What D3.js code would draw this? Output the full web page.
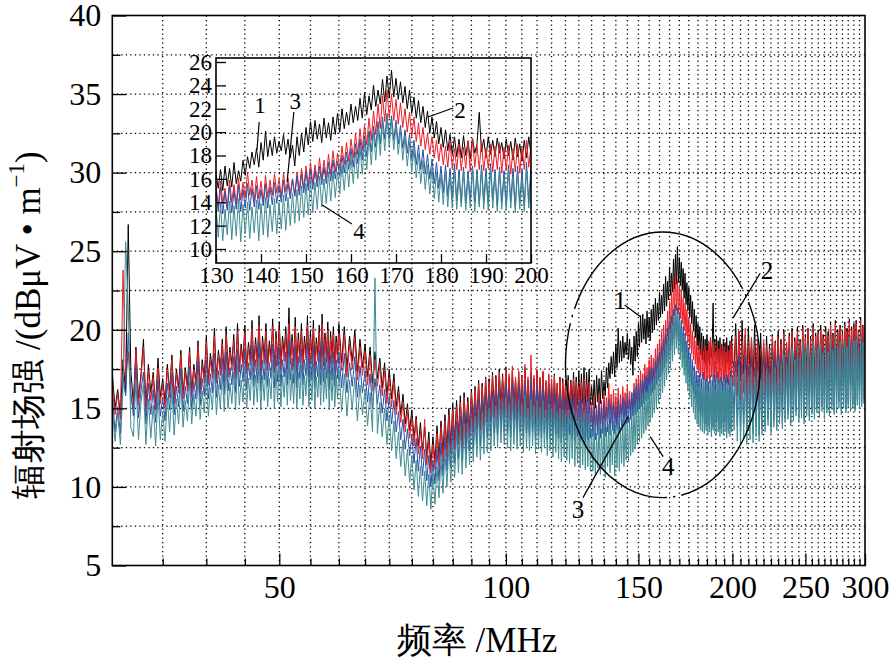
<!DOCTYPE html>
<html><head><meta charset="utf-8">
<script src="https://cdn.jsdelivr.net/npm/d3@7"></script>
<style>
body{margin:0;background:#fff}
svg{display:block}
text{font-family:"Liberation Serif","Tinos","Times New Roman",Times,"DejaVu Serif",serif;fill:#000}
</style>
</head><body>
<svg id="c" width="892" height="659"></svg>
<script>
// ---------------- DATA ----------------
const freqMHz = [
30,30.25,30.5,30.75,31,31.25,31.5,31.75,32,32.25,
32.5,32.75,33,33.25,33.5,33.75,34,34.25,34.5,34.75,
35,35.25,35.5,35.75,36,36.25,36.5,36.75,37,37.25,
37.5,37.75,38,38.25,38.5,38.75,39,39.25,39.5,39.75,
40,40.25,40.5,40.75,41,41.25,41.5,41.75,42,42.25,
42.5,42.75,43,43.25,43.5,43.75,44,44.25,44.5,44.75,
45,45.25,45.5,45.75,46,46.25,46.5,46.75,47,47.25,
47.5,47.75,48,48.25,48.5,48.75,49,49.25,49.5,49.75,
50,50.25,50.5,50.75,51,51.25,51.5,51.75,52,52.25,
52.5,52.75,53,53.25,53.5,53.75,54,54.25,54.5,54.75,
55,55.25,55.5,55.75,56,56.25,56.5,56.75,57,57.25,
57.5,57.75,58,58.25,58.5,58.75,59,59.25,59.5,59.75,
60,
60.5,61,61.5,62,62.5,63,63.5,64,64.5,65,
65.5,66,66.5,67,67.5,68,68.5,69,69.5,70,
70.5,71,71.5,72,72.5,73,73.5,74,74.5,75,
75.5,76,76.5,77,77.5,78,78.5,79,79.5,80,
80.5,81,81.5,82,82.5,83,83.5,84,84.5,85,
85.5,86,86.5,87,87.5,88,88.5,89,89.5,90,
90.5,91,91.5,92,92.5,93,93.5,94,94.5,95,
95.5,96,96.5,97,97.5,98,98.5,99,99.5,100,
100.5,101,101.5,102,102.5,103,103.5,104,104.5,105,
105.5,106,106.5,107,107.5,108,108.5,109,109.5,110,
110.5,111,111.5,112,112.5,113,113.5,114,114.5,115,
115.5,116,116.5,117,117.5,118,118.5,119,119.5,120,
120.5,121,121.5,122,122.5,123,123.5,124,124.5,125,
125.5,126,126.5,127,127.5,128,128.5,129,129.5,
130,130.5,131,131.5,132,132.5,133,133.5,134,134.5,
135,135.5,136,136.5,137,137.5,138,138.5,139,139.5,
140,140.5,141,141.5,142,142.5,143,143.5,144,144.5,
145,145.5,146,146.5,147,147.5,148,148.5,149,149.5,
150,150.5,151,151.5,152,152.5,153,153.5,154,154.5,
155,155.5,156,156.5,157,157.5,158,158.5,159,159.5,
160,160.5,161,161.5,162,162.5,163,163.5,164,164.5,
165,165.5,166,166.5,167,167.5,168,168.5,169,169.5,
170,170.5,171,171.5,172,172.5,173,173.5,174,174.5,
175,175.5,176,176.5,177,177.5,178,178.5,179,179.5,
180,180.5,181,181.5,182,182.5,183,183.5,184,184.5,
185,185.5,186,186.5,187,187.5,188,188.5,189,189.5,
190,190.5,191,191.5,192,192.5,193,193.5,194,194.5,
195,195.5,196,196.5,197,197.5,198,198.5,199,199.5,
200,
201,202,203,204,205,206,207,208,209,210,
211,212,213,214,215,216,217,218,219,220,
221,222,223,224,225,226,227,228,229,230,
231,232,233,234,235,236,237,238,239,240,
241,242,243,244,245,246,247,248,249,250,
251,252,253,254,255,256,257,258,259,260,
261,262,263,264,265,266,267,268,269,270,
271,272,273,274,275,276,277,278,279,280,
281,282,283,284,285,286,287,288,289,290,
291,292,293,294,295,296,297,298,299,300
];

// curve 1 (black)
const curve1 = [
17.3,15.0,16.2,14.6,18.1,16.0,26.7,17.4,15.3,18.9,
15.6,17.2,19.4,15.1,17.8,16.0,17.3,15.2,18.2,15.7,
16.9,15.4,17.8,16.1,18.4,15.6,17.5,16.3,18.7,15.9,
17.6,16.4,18.9,16.0,17.8,16.7,19.3,16.2,18.1,16.9,
19.6,16.8,18.5,17.3,20.1,16.9,18.7,17.5,19.4,17.0,
20.2,17.4,18.9,17.8,19.7,17.2,20.4,17.6,19.1,18.0,
20.3,17.5,19.2,18.1,20.6,17.7,19.5,17.9,20.9,17.4,
19.6,18.2,20.4,17.8,19.3,18.3,20.7,17.6,19.9,18.1,
20.5,17.8,19.6,18.4,20.2,17.9,21.4,18.2,19.7,18.0,
20.8,17.7,19.8,18.3,20.4,17.9,19.6,18.5,20.9,17.8,
19.9,18.2,20.6,17.7,19.5,18.4,20.3,17.9,21.0,18.1,
19.8,18.3,20.5,17.6,19.9,18.2,20.2,17.8,19.6,18.4,
20.4,
17.9,20.2,17.5,19.6,18.0,20.0,17.3,19.4,17.6,19.1,
17.0,18.9,16.6,18.6,16.9,18.2,16.3,17.9,15.8,17.5,
15.6,17.2,15.1,16.4,14.6,15.9,14.0,15.3,13.6,14.9,
13.1,14.5,12.6,14.1,12.3,13.8,11.9,13.5,11.4,13.2,
11.6,13.9,11.8,14.2,12.1,14.6,12.4,15.0,12.6,15.3,
12.9,15.5,13.2,15.8,13.0,16.0,13.5,15.7,13.7,16.2,
13.9,16.4,14.1,16.8,14.0,16.6,14.3,17.0,14.5,16.9,
14.6,17.3,14.8,17.1,14.7,17.5,15.0,17.2,14.9,17.6,
14.8,17.0,14.6,17.4,15.0,16.9,14.7,17.3,14.9,17.1,
14.5,17.6,14.8,16.8,14.6,17.2,14.9,16.9,14.4,17.4,
14.7,16.9,14.5,17.3,14.8,16.7,14.4,17.1,14.6,16.8,
14.3,17.2,14.7,16.6,14.5,17.0,14.2,16.9,14.6,16.7,
14.8,17.1,14.9,16.8,15.1,17.3,14.9,17.0,15.2,17.4,
15.0,17.2,15.3,17.6,15.1,17.3,15.4,17.5,15.2,
16.4,15.2,16.8,15.0,17.1,15.4,16.9,15.3,17.4,15.6,
16.7,15.8,17.6,16.3,17.9,16.9,18.3,17.2,18.6,17.0,
19.1,17.6,20.1,17.9,19.3,18.0,19.6,18.2,19.2,18.4,
19.8,18.1,19.4,17.8,18.9,17.1,19.6,18.0,19.9,18.3,
20.4,18.9,20.9,19.2,21.0,19.4,20.7,19.1,21.2,19.5,
20.8,19.3,21.3,19.8,21.6,20.0,22.0,20.3,21.7,20.6,
22.4,20.8,22.2,21.0,22.9,21.2,23.4,21.5,23.1,21.9,
24.0,22.2,23.6,22.4,24.5,22.6,24.8,22.9,25.3,23.0,
24.6,22.8,24.3,22.5,23.9,22.0,23.6,21.6,23.0,21.2,
22.7,20.8,22.2,20.4,21.8,19.9,21.3,19.5,20.9,19.0,
20.4,18.7,20.2,18.4,19.8,18.1,19.6,17.9,19.4,17.8,
19.7,18.0,19.2,17.7,19.5,18.2,19.0,21.7,18.3,19.4,
17.8,19.6,18.1,19.3,17.9,19.5,18.2,19.1,17.7,19.4,
18.0,19.2,17.6,19.5,17.9,19.0,17.5,19.3,17.8,19.6,
18.1,
17.6,20.4,17.0,19.9,16.8,20.6,17.2,19.7,16.6,20.2,
17.1,19.5,16.5,20.3,16.9,19.4,16.4,19.8,16.8,19.2,
16.6,19.6,17.0,19.1,16.4,19.7,16.8,19.3,16.5,19.9,
16.9,19.4,16.5,20.0,16.8,19.2,17.0,19.8,16.6,20.1,
16.8,19.5,17.2,20.2,16.7,19.4,17.1,20.3,16.8,19.7,
17.3,20.1,16.8,19.6,17.1,20.4,16.9,19.8,17.2,20.0,
17.0,20.3,17.3,19.7,16.9,20.2,17.4,19.9,17.1,20.5,
17.5,19.8,17.0,20.6,17.3,20.0,17.7,20.3,17.2,19.9,
17.4,20.5,17.1,20.1,17.6,20.7,17.3,20.2,17.5,20.4,
17.2,20.6,17.7,20.0,17.4,20.8,17.6,20.3,17.8,20.1
];

// curve 2 (red)
const curve2 = [
16.8,14.6,15.9,14.3,23.8,16.9,18.6,15.7,15.0,18.7,
15.2,16.9,18.9,14.8,17.4,15.5,17.0,14.9,17.6,15.3,
16.5,15.0,17.5,15.7,18.1,15.3,17.2,16.0,18.4,15.6,
17.3,16.1,18.6,15.7,17.5,16.4,19.0,15.9,17.8,16.6,
19.2,16.5,18.1,16.9,19.6,16.6,18.4,17.1,19.1,16.7,
19.7,17.0,18.6,17.4,19.3,16.9,19.9,17.3,18.8,17.6,
19.8,17.2,18.9,17.7,20.1,17.3,19.1,17.6,20.3,17.1,
19.2,17.8,19.9,17.4,18.9,17.9,20.2,17.3,19.5,17.7,
20.0,17.4,19.2,18.0,19.7,17.5,20.4,17.8,19.3,17.6,
20.2,17.3,19.4,17.9,19.9,17.5,19.2,18.1,20.3,17.4,
19.5,17.8,20.1,17.3,19.1,18.0,19.8,17.5,20.4,17.7,
19.4,17.9,20.0,17.2,19.5,17.8,19.7,17.4,19.2,17.9,
19.8,
17.4,19.7,17.0,19.1,17.5,19.5,16.8,18.9,17.1,18.6,
16.5,18.4,16.1,18.1,16.4,17.7,15.8,17.4,15.3,17.0,
15.1,16.7,14.6,15.9,14.1,15.4,13.5,14.8,13.1,14.4,
12.6,14.3,12.1,13.6,11.8,14.3,11.4,13.0,10.9,12.7,
11.1,13.4,11.3,13.8,11.6,14.2,11.9,14.6,12.1,14.9,
12.4,15.1,12.7,15.4,12.5,15.7,13.0,15.4,13.2,16.0,
13.5,16.2,13.7,16.6,13.6,16.4,13.9,16.9,14.1,16.7,
14.2,17.1,14.4,16.9,14.3,17.3,14.6,17.0,14.5,17.5,
14.4,17.2,14.2,17.7,14.6,17.0,14.3,17.4,14.5,17.1,
14.1,17.8,14.4,17.0,14.2,18.4,14.5,17.1,14.0,17.5,
14.3,17.0,14.1,17.4,14.4,16.8,14.0,17.2,14.2,16.9,
13.9,17.1,14.3,16.6,14.1,16.9,13.8,16.7,14.2,16.5,
14.0,16.8,14.3,16.6,14.1,16.9,13.9,16.7,14.2,16.4,
13.9,16.6,14.1,16.9,13.8,16.5,14.0,16.7,14.1,
15.4,13.6,15.8,13.9,15.2,13.5,15.9,14.0,15.5,13.8,
16.1,14.2,15.7,14.4,16.6,14.6,15.9,14.1,16.2,14.3,
15.8,14.0,16.3,14.4,15.9,14.6,16.4,14.8,16.0,14.5,
16.5,14.9,16.1,14.7,16.0,14.6,16.6,15.0,16.9,15.2,
17.1,15.4,17.4,15.6,17.2,15.8,17.8,16.0,17.6,16.1,
18.1,16.4,18.4,16.6,18.2,16.9,18.8,17.2,19.1,17.5,
19.4,17.8,19.9,18.1,20.3,18.4,20.6,18.9,21.2,19.3,
21.8,19.8,22.4,20.3,23.1,20.9,23.6,21.2,23.2,21.0,
22.8,20.7,22.5,20.4,22.0,20.0,21.7,19.6,21.3,19.2,
20.8,18.8,20.4,18.5,19.9,18.1,19.6,17.8,19.3,17.5,
19.0,17.2,18.8,17.0,19.2,16.9,18.6,16.8,19.0,16.7,
18.7,16.9,19.3,16.6,19.5,17.0,18.9,16.8,19.2,16.7,
18.6,16.9,19.0,16.6,18.8,16.8,19.1,16.5,18.7,16.7,
18.9,16.4,18.6,16.6,19.0,16.5,18.7,16.8,19.3,17.0,
18.9,
16.4,19.6,15.8,19.9,15.5,19.3,16.0,20.1,15.4,19.0,
15.9,19.5,15.3,19.0,15.7,19.4,15.2,18.8,15.6,19.3,
15.5,19.0,15.9,18.8,15.3,19.6,15.8,19.2,15.4,19.5,
15.9,19.1,15.4,19.8,15.7,19.2,16.0,19.6,15.6,19.9,
15.8,19.3,16.2,19.9,15.7,19.2,16.1,20.1,15.8,19.5,
16.3,19.9,15.8,19.4,16.1,20.2,15.9,19.6,16.2,19.8,
16.0,20.0,16.3,19.5,15.9,19.9,16.4,19.6,16.1,20.3,
16.5,19.6,16.0,20.4,16.3,19.8,16.7,20.1,16.2,19.7,
16.4,20.3,16.1,19.9,16.6,20.5,16.3,20.0,16.5,20.2,
16.2,20.4,16.7,19.9,16.4,20.6,16.6,20.2,16.8,21.3
];

// curve 3 (blue)
const curve3 = [
15.9,13.5,15.1,13.4,17.0,15.8,19.8,16.0,14.5,17.6,
14.4,16.1,17.3,14.0,16.6,14.6,16.2,14.1,16.8,14.5,
15.7,14.2,16.6,14.9,17.2,14.6,16.4,15.1,17.5,14.8,
16.4,15.3,17.7,14.9,16.7,15.6,18.0,15.2,16.9,15.8,
18.1,15.6,17.2,16.0,18.5,15.7,17.4,16.2,18.2,15.9,
18.6,16.1,17.6,16.5,18.3,16.0,18.8,16.4,17.8,16.7,
18.7,16.2,17.9,16.8,19.0,16.4,18.1,16.6,19.2,16.1,
18.1,16.8,18.8,16.4,17.9,16.9,19.1,16.3,18.4,16.7,
18.9,16.4,18.1,17.0,18.6,16.5,19.3,16.8,18.2,16.6,
19.0,16.3,18.3,16.9,18.8,16.5,18.1,17.1,19.2,16.4,
18.4,16.8,19.0,16.3,18.0,17.0,18.7,16.5,19.3,16.7,
18.3,16.9,18.9,16.2,18.4,16.8,18.6,16.4,18.1,16.9,
18.6,
16.3,18.5,16.0,17.9,16.4,18.3,15.7,17.7,16.0,17.4,
15.4,17.2,15.0,16.9,15.3,16.5,14.7,16.2,14.2,15.8,
14.0,15.5,13.5,14.8,13.0,14.3,12.4,13.7,12.0,13.3,
11.5,13.1,11.0,12.6,10.7,12.4,10.4,12.0,10.0,11.7,
10.2,12.4,10.4,12.8,10.7,13.2,11.0,13.6,11.2,13.9,
11.5,14.2,11.8,14.5,11.6,14.8,12.1,14.6,12.3,15.1,
12.5,15.3,12.7,15.6,12.6,15.5,12.9,15.9,13.1,15.8,
13.2,16.1,13.4,15.9,13.3,16.3,13.6,16.0,13.5,16.5,
13.4,16.2,13.2,16.6,13.6,16.0,13.3,16.4,13.5,16.1,
13.1,16.7,13.4,15.9,13.2,16.9,13.5,16.1,13.0,16.5,
13.3,16.0,13.1,16.4,13.4,15.8,13.0,16.2,13.2,15.9,
12.9,16.1,13.3,15.6,13.1,15.9,12.8,15.7,13.2,15.5,
13.0,15.8,13.3,15.6,13.1,15.9,12.9,15.7,13.2,15.4,
12.9,15.6,13.1,15.9,12.8,15.5,13.0,15.7,13.1,
15.0,13.2,15.3,13.0,14.9,13.3,15.4,13.1,15.0,13.4,
15.5,13.2,15.1,13.5,15.6,13.3,15.2,13.6,15.4,13.4,
15.1,13.7,15.6,13.5,15.3,13.8,15.7,13.9,15.4,14.0,
15.9,14.1,15.6,14.3,16.0,14.5,16.2,14.6,16.4,14.8,
16.6,15.0,16.8,15.1,16.7,15.3,17.1,15.5,17.0,15.6,
17.4,15.8,17.6,16.0,17.5,16.2,18.0,16.5,18.3,16.8,
18.6,17.0,19.0,17.3,19.4,17.6,19.7,17.9,20.1,18.3,
20.5,18.7,20.9,19.0,21.3,19.4,21.6,19.6,21.4,19.3,
21.0,19.0,20.6,18.6,20.2,18.2,19.8,17.7,19.3,17.2,
18.9,16.8,18.5,16.4,18.1,16.0,17.7,15.6,17.4,15.2,
17.1,14.8,17.2,14.5,16.9,14.3,17.3,14.1,16.8,14.0,
17.0,13.9,16.7,14.2,17.1,14.0,16.8,13.8,17.2,14.1,
16.9,13.9,17.3,14.2,16.8,13.7,17.0,14.0,16.7,13.8,
17.2,14.1,16.9,13.6,17.1,13.9,16.8,13.7,17.4,14.0,
17.0,
14.6,18.0,13.9,18.4,13.6,17.8,14.0,18.3,13.5,17.7,
13.9,18.2,13.4,17.6,13.8,18.0,13.3,17.5,13.7,18.3,
13.9,17.9,14.3,17.7,13.8,18.5,14.2,18.0,13.9,18.4,
14.4,18.1,14.0,18.7,14.3,18.2,14.6,18.6,14.1,18.9,
14.5,18.3,14.8,18.9,14.4,18.2,14.7,19.1,14.3,18.6,
14.9,19.0,14.5,18.4,14.8,19.2,14.6,18.7,15.0,18.9,
14.7,19.1,15.1,18.5,14.6,19.0,15.0,18.7,14.8,19.4,
15.2,18.8,14.8,19.5,15.1,18.9,15.4,19.2,14.9,18.8,
15.3,19.3,15.0,18.9,15.4,19.6,15.1,19.1,15.3,19.4,
15.0,19.5,15.5,19.0,15.2,19.8,15.4,19.3,15.6,20.0
];

// curve 4 (teal)
const curve4 = [
15.2,12.9,14.7,12.7,16.3,25.6,21.5,13.8,13.2,16.8,
13.0,15.4,16.5,12.7,15.6,13.1,15.2,12.6,15.9,13.0,
14.8,12.9,15.7,13.5,16.3,13.3,15.6,14.0,16.6,13.8,
15.5,14.2,16.7,14.0,15.9,14.5,17.0,14.3,16.1,14.7,
17.1,14.5,16.3,14.9,17.5,14.6,16.5,15.0,17.2,14.8,
17.6,15.0,16.6,15.3,17.3,14.9,17.8,15.2,16.8,15.4,
17.7,15.0,16.9,15.5,18.0,15.2,17.1,15.4,18.2,14.9,
17.1,15.5,17.8,15.1,16.9,15.6,18.1,15.0,17.4,15.4,
17.9,15.1,17.1,15.7,17.6,15.2,18.3,15.5,17.2,15.3,
18.0,15.0,17.3,15.6,17.8,15.2,17.1,15.8,18.2,15.1,
17.4,15.5,18.0,15.0,17.0,15.7,17.7,15.2,18.3,15.4,
17.3,15.6,17.9,14.9,17.4,15.5,17.6,15.1,17.1,15.6,
17.5,
14.8,17.2,14.5,16.8,14.9,17.0,14.2,16.5,14.6,16.2,
13.9,16.0,13.5,23.3,13.4,15.4,13.2,15.0,12.7,14.6,
12.3,14.2,11.8,13.5,11.3,13.0,10.7,12.4,10.3,12.0,
9.8,11.7,9.4,11.3,9.1,11.0,8.8,10.8,8.6,10.9,
8.9,11.3,9.3,11.8,9.6,12.3,10.0,12.7,10.3,13.0,
10.6,13.4,10.9,13.7,10.8,14.0,11.2,13.8,11.4,14.3,
11.6,14.5,11.9,14.8,11.7,14.7,12.1,15.1,12.2,15.0,
12.3,15.3,12.6,15.1,12.5,15.6,12.8,15.2,12.7,15.7,
12.5,15.3,12.3,15.7,12.7,15.1,12.4,15.5,12.6,15.2,
12.2,15.8,12.5,15.0,12.3,15.6,12.6,15.2,12.1,15.5,
12.4,15.1,12.2,15.5,12.5,14.9,12.0,15.3,12.3,15.0,
11.9,15.2,12.2,14.7,11.8,15.0,11.6,14.9,11.9,14.6,
11.7,14.9,11.5,14.6,11.8,14.9,11.3,14.7,11.5,14.4,
11.2,14.6,11.4,14.8,11.1,14.5,11.3,14.7,11.0,
13.6,11.0,13.9,10.7,13.4,11.2,14.1,10.8,13.7,11.1,
14.3,10.6,13.8,11.3,14.0,10.9,13.6,11.4,14.2,10.7,
13.9,11.2,14.4,11.0,13.8,11.5,14.3,11.3,14.0,11.7,
14.6,11.6,14.4,12.0,14.8,12.2,15.1,12.4,15.4,12.7,
15.6,12.9,15.9,13.1,15.7,13.4,16.2,13.6,16.0,13.9,
16.5,14.1,16.7,14.4,16.6,14.7,17.2,15.0,17.6,15.3,
17.9,15.6,18.3,16.0,18.7,16.4,19.1,16.8,19.6,17.2,
20.0,17.6,20.4,18.0,20.9,18.4,21.3,18.8,21.0,18.5,
20.6,18.1,20.1,17.6,19.6,17.1,19.1,16.6,18.6,16.1,
18.1,15.6,17.6,15.1,17.2,14.7,16.9,14.3,16.6,14.0,
16.4,13.8,16.6,13.6,16.3,13.5,16.8,13.4,16.2,13.6,
16.7,13.3,16.1,13.5,16.9,13.2,16.4,13.6,16.8,13.4,
16.2,13.3,16.9,13.5,16.3,13.2,16.7,13.4,16.1,13.3,
16.8,13.5,16.2,13.1,16.6,13.4,16.0,13.2,16.9,13.5,
16.4,
13.6,17.3,12.9,17.7,12.8,17.1,13.1,17.5,12.7,17.0,
13.0,17.6,12.8,17.0,13.2,17.4,12.9,16.9,13.3,17.7,
13.5,17.5,13.9,17.2,13.4,18.1,13.8,17.6,13.6,18.0,
14.0,17.8,13.7,18.4,14.1,17.9,14.3,18.5,13.9,18.8,
14.2,18.1,14.5,18.9,14.1,18.3,14.4,19.2,14.0,18.6,
14.5,19.0,14.2,18.4,14.6,19.3,14.3,18.7,14.7,18.9,
14.4,19.1,14.8,18.5,14.3,19.0,14.7,18.6,14.5,19.4,
14.9,18.7,14.6,19.5,14.8,18.9,15.0,19.2,14.6,18.8,
15.0,19.3,14.7,18.9,15.1,19.5,14.8,19.0,15.0,19.3,
14.8,19.4,15.2,18.9,15.0,19.6,15.1,19.2,15.3,19.1
];

const seriesColors = ["#000000", "#ec1c24", "#2a4ea6", "#3f8c92"];
const mainYTickLabels = [5, 10, 15, 20, 25, 30, 35, 40];
const mainXTickLabels = [50, 100, 150, 200, 250, 300];
const insetXTickLabels = [130, 140, 150, 160, 170, 180, 190, 200];
const insetYTickLabels = [10, 12, 14, 16, 18, 20, 22, 24, 26];

// annotations in data coordinates (freq MHz, level dB)
const mainNotes = [
  {label:"1", tx:141.8, ty:21.84, x1:143.8, y1:21.58, x2:151.1, y2:20.82},
  {label:"2", tx:222.3, ty:23.80, x1:217.7, y1:23.60, x2:200.4, y2:20.76},
  {label:"3", tx:124.7, ty:8.56,  x1:126.6, y1:9.32,  x2:145.4, y2:14.47},
  {label:"4", tx:164.3, ty:11.29, x1:161.8, y1:11.93, x2:155.5, y2:13.20}
];
const insetNotes = [
  {label:"1", tx:139.8, ty:22.30, x1:139.6, y1:20.86, x2:139.1, y2:18.47},
  {label:"3", tx:147.6, ty:22.66, x1:147.3, y1:21.72, x2:145.8, y2:15.73},
  {label:"2", tx:184.2, ty:21.89, x1:182.7, y1:22.06, x2:177.1, y2:21.29},
  {label:"4", tx:161.8, ty:11.54, x1:160.2, y1:12.14, x2:153.6, y2:13.76}
];
const ellipseBox = {f0:120, f1:217.7, v0:9.32, v1:26.22};

// ---------------- DRAW ----------------
const SERIF = '"Liberation Serif","Tinos","Times New Roman",Times,"DejaVu Serif",serif';
const svg = d3.select("#c");
const M = {left:112.3, right:865, top:15.5, bottom:565.5};
const x = d3.scaleLog().domain([30, 300]).range([M.left, M.right]);
const y = d3.scaleLinear().domain([5, 40]).range([M.bottom, M.top]);

const defs = svg.append("defs");
defs.append("clipPath").attr("id","clipMain").append("rect")
  .attr("x", M.left).attr("y", M.top).attr("width", M.right - M.left).attr("height", M.bottom - M.top);

// grid
const gridX = d3.range(35, 300, 5);
const gridY = d3.range(7.5, 40, 2.5);
const grid = svg.append("g").attr("stroke", "#000").attr("stroke-width", 1.3).attr("stroke-dasharray", "1.3,3.2");
grid.selectAll("line.gx").data(gridX).join("line").attr("class","gx")
  .attr("x1", d => x(d)).attr("x2", d => x(d)).attr("y1", M.top).attr("y2", M.bottom);
grid.selectAll("line.gy").data(gridY).join("line").attr("class","gy")
  .attr("x1", M.left).attr("x2", M.right).attr("y1", d => y(d)).attr("y2", d => y(d));

// series in main
const seriesList = [curve1, curve2, curve3, curve4];
const gMain = svg.append("g").attr("clip-path", "url(#clipMain)");
const lineMain = d3.line().x(d => x(d[0])).y(d => y(d[1]));
seriesList.forEach((vals, k) => {
  const pts = freqMHz.map((f, i) => [f, vals[i]]).filter(p => p[1] !== undefined);
  gMain.append("path").attr("d", lineMain(pts)).attr("fill", "none")
    .attr("stroke", seriesColors[k]).attr("stroke-width", 1).attr("stroke-linejoin","round");
});

// axes main
const axisStyle = (fs) => g => {
  g.attr("font-family", null).attr("font-size", null);
  g.select(".domain").remove();
  g.selectAll(".tick line").attr("stroke", "#000").attr("stroke-width", 1.3);
  g.selectAll(".tick text").style("font-family", SERIF).style("font-size", fs + "px").attr("fill", "#000");
};
svg.append("g").attr("transform", `translate(0,${M.bottom})`)
  .call(d3.axisBottom(x).tickValues(gridX.filter(v => v % 50 !== 0)).tickSize(-7).tickFormat(""))
  .call(axisStyle(32));
svg.append("g").attr("transform", `translate(0,${M.bottom})`)
  .call(d3.axisBottom(x).tickValues(mainXTickLabels).tickSize(-12).tickPadding(10).tickFormat(d3.format("d")))
  .call(axisStyle(32));
svg.append("g").attr("transform", `translate(${M.left},0)`)
  .call(d3.axisLeft(y).tickValues(gridY.filter(v => v % 5 !== 0)).tickSize(-8).tickFormat(""))
  .call(axisStyle(32));
svg.append("g").attr("transform", `translate(${M.left},0)`)
  .call(d3.axisLeft(y).tickValues(mainYTickLabels).tickSize(-14).tickPadding(11).tickFormat(d3.format("d")))
  .call(axisStyle(32));

svg.append("rect").attr("x", M.left).attr("y", M.top).attr("width", M.right - M.left).attr("height", M.bottom - M.top)
  .attr("fill", "none").attr("stroke", "#000").attr("stroke-width", 1.6);

// ellipse
const ex0 = x(ellipseBox.f0), ex1 = x(ellipseBox.f1), ey0 = y(ellipseBox.v0), ey1 = y(ellipseBox.v1);
svg.append("ellipse").attr("cx", (ex0 + ex1) / 2).attr("cy", (ey0 + ey1) / 2)
  .attr("rx", Math.abs(ex1 - ex0) / 2).attr("ry", Math.abs(ey0 - ey1) / 2)
  .attr("fill", "none").attr("stroke", "#000").attr("stroke-width", 1.4)
  .attr("stroke-dasharray", "228,6,2.5,6").attr("stroke-dashoffset", 65);

// main annotations
const gNotes = svg.append("g");
mainNotes.forEach(n => {
  gNotes.append("line").attr("x1", x(n.x1)).attr("y1", y(n.y1)).attr("x2", x(n.x2)).attr("y2", y(n.y2))
    .attr("stroke", "#000").attr("stroke-width", 1.3);
  gNotes.append("text").attr("x", x(n.tx)).attr("y", y(n.ty)).attr("text-anchor", "middle")
    .attr("dominant-baseline", "central").style("font-size", "25px").text(n.label);
});

// ---------------- INSET ----------------
const I = {left:216, right:531, top:58, bottom:263};
const xi = d3.scaleLinear().domain([130, 200]).range([I.left, I.right]);
const yi = d3.scaleLinear().domain([10, 26]).range([249, 62]);
defs.append("clipPath").attr("id","clipInset").append("rect")
  .attr("x", I.left).attr("y", I.top).attr("width", I.right - I.left).attr("height", I.bottom - I.top);
const gIn = svg.append("g").attr("clip-path", "url(#clipInset)");
const lineIn = d3.line().x(d => xi(d[0])).y(d => yi(d[1]));
seriesList.forEach((vals, k) => {
  const pts = freqMHz.map((f, i) => [f, vals[i]]).filter(p => p[0] >= 130 && p[0] <= 200 && p[1] !== undefined);
  gIn.append("path").attr("d", lineIn(pts)).attr("fill", "none")
    .attr("stroke", seriesColors[k]).attr("stroke-width", 1).attr("stroke-linejoin","round");
});
svg.append("g").attr("transform", `translate(0,${I.bottom})`)
  .call(d3.axisBottom(xi).tickValues(insetXTickLabels).tickSize(-9).tickPadding(4).tickFormat(d3.format("d")))
  .call(axisStyle(23));
svg.append("g").attr("transform", `translate(${I.left},0)`)
  .call(d3.axisLeft(yi).tickValues(insetYTickLabels).tickSize(-10).tickPadding(4).tickFormat(d3.format("d")))
  .call(axisStyle(23));
svg.append("rect").attr("x", I.left).attr("y", I.top).attr("width", I.right - I.left).attr("height", I.bottom - I.top)
  .attr("fill", "none").attr("stroke", "#000").attr("stroke-width", 1.6);
insetNotes.forEach(n => {
  svg.append("line").attr("x1", xi(n.x1)).attr("y1", yi(n.y1)).attr("x2", xi(n.x2)).attr("y2", yi(n.y2))
    .attr("stroke", "#000").attr("stroke-width", 1.2);
  svg.append("text").attr("x", xi(n.tx)).attr("y", yi(n.ty)).attr("text-anchor", "middle")
    .attr("dominant-baseline", "central").style("font-size", "23px").text(n.label);
});

// ---------------- TITLES ----------------
svg.append("text").attr("x", 477).attr("y", 652).attr("text-anchor", "middle")
  .style("font-size", "35px").text("频率 /MHz");
const yt = svg.append("text").attr("transform", "translate(28,325) rotate(-90)")
  .attr("text-anchor", "middle").attr("dominant-baseline", "central").style("font-size", "35px");
yt.append("tspan").text("辐射场强 /(dBμV • m");
yt.append("tspan").style("font-size", "23px").attr("dy", -12).text("−1");
yt.append("tspan").attr("dy", 12).text(")");

if (freqMHz.length !== curve1.length || curve1.length !== curve2.length || curve2.length !== curve3.length || curve3.length !== curve4.length) {
  console.error("length mismatch", freqMHz.length, curve1.length, curve2.length, curve3.length, curve4.length);
}
</script>
</body></html>
